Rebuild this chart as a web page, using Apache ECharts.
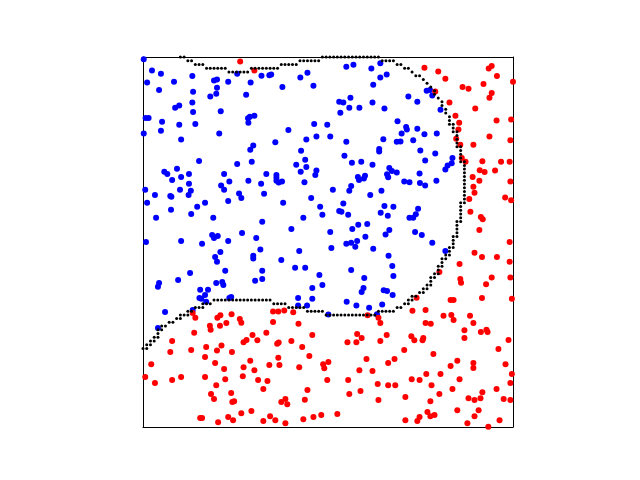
<!DOCTYPE html>
<html>
<head>
<meta charset="utf-8">
<script src="https://cdn.jsdelivr.net/npm/echarts@6/dist/echarts.min.js"></script>
<style>html,body{margin:0;padding:0;background:#fff}#c{width:640px;height:480px}</style>
</head>
<body>
<div id="c"></div>
<script>
// Class 1 (blue) samples, [x, y] on a 0..99 grid scale
const bluePoints = [
[0.2,98.4],[2.4,95.4],[4.8,94.5],[1.1,92.2],[8.3,92.4],[13.2,93.9],[19.0,92.7],[19.8,93.0],[22.8,92.4],[25.2,94.5],
[28.8,92.2],[31.7,94.0],[19.8,90.8],[4.3,90.2],[13.4,89.7],[18.0,88.4],[19.6,89.2],[27.6,88.9],[8.6,85.4],[9.7,86.0],
[13.2,86.8],[13.4,84.3],[20.8,84.5],[0.7,82.7],[1.5,82.7],[5.1,81.7],[9.7,80.9],[14.0,81.1],[28.1,82.6],[28.6,83.0],
[29.8,83.3],[28.2,81.4],[0.2,78.5],[4.8,79.3],[20.4,78.5],[10.2,76.9],[29.5,75.3],[28.7,74.2],[15.0,71.2],[25.2,70.4],
[29.1,71.0],[5.7,68.3],[6.5,67.7],[9.1,69.1],[12.3,67.7],[21.7,67.7],[33.0,67.7],[7.8,66.1],[10.2,66.9],[12.3,65.1],
[23.1,65.7],[28.2,65.9],[33.8,94.1],[34.3,94.3],[37.3,91.0],[42.1,93.5],[44.0,94.8],[45.6,91.3],[54.4,96.4],[56.3,96.9],
[61.1,95.9],[63.5,97.3],[63.5,93.5],[65.2,94.3],[61.6,91.6],[52.5,87.0],[53.6,86.8],[55.5,88.1],[55.2,85.4],[57.9,85.4],
[52.8,84.1],[61.4,86.8],[64.6,85.2],[45.8,81.1],[49.3,80.9],[38.9,79.5],[46.4,77.7],[50.1,77.7],[35.4,76.2],[43.7,76.9],
[54.4,76.3],[64.3,77.0],[42.3,73.9],[63.2,74.4],[63.2,73.7],[53.9,72.6],[43.4,71.5],[41.0,70.2],[43.7,69.6],[55.9,70.7],
[58.4,71.0],[61.4,70.2],[65.9,69.3],[35.7,67.4],[35.7,66.7],[35.7,65.9],[36.3,65.4],[37.2,65.7],[42.2,68.3],[43.2,65.5],
[46.4,68.6],[46.1,67.4],[57.5,66.9],[57.8,66.1],[59.4,67.2],[59.1,66.5],[65.3,67.6],[65.6,66.8],[75.9,90.0],[76.8,90.2],
[77.4,88.7],[71.0,88.4],[73.4,87.0],[79.6,84.9],[68.1,81.8],[70.4,80.3],[70.6,79.6],[73.4,79.8],[69.2,78.5],[75.3,78.3],
[78.6,78.5],[67.9,76.3],[68.9,76.4],[72.3,76.7],[74.2,74.0],[78.2,73.2],[75.5,71.3],[82.8,72.0],[82.6,70.6],[81.5,70.0],
[80.9,68.9],[66.6,68.5],[67.9,68.1],[74.0,67.8],[69.9,65.7],[71.3,65.5],[74.1,65.3],[75.5,64.6],[78.5,65.9],[73.6,58.4],
[71.3,56.0],[72.3,56.0],[73.0,56.9],[72.8,52.2],[74.6,51.4],[77.4,49.3],[80.9,47.1],[67.0,58.9],[65.5,56.5],[65.9,52.7],
[64.9,51.5],[65.7,45.8],[66.7,43.1],[67.0,40.4],[64.4,36.6],[65.3,36.4],[66.8,35.3],[20.9,64.6],[21.7,63.5],[31.6,65.1],
[0.6,63.5],[3.2,62.1],[7.3,61.8],[7.6,61.6],[9.9,63.5],[12.8,63.2],[12.2,62.1],[25.7,62.5],[26.3,61.3],[32.4,62.4],
[1.1,60.0],[7.5,58.1],[16.6,60.0],[14.5,58.9],[12.9,57.0],[22.8,60.5],[3.5,56.0],[18.8,56.0],[31.9,54.9],[0.8,49.5],
[10.2,49.8],[15.8,49.0],[18.5,51.4],[19.0,50.6],[20.0,51.1],[22.8,49.8],[26.5,51.9],[30.3,50.6],[31.4,47.5],[20.7,46.8],
[19.3,45.5],[19.8,44.2],[29.5,45.8],[29.5,45.1],[12.6,41.2],[22.0,41.8],[31.9,41.8],[4.3,38.5],[4.0,37.5],[9.4,39.3],
[19.6,38.5],[21.2,38.8],[21.5,38.0],[30.0,39.1],[31.9,39.6],[15.3,36.7],[17.4,36.7],[16.6,35.3],[15.1,34.5],[15.6,34.3],
[16.9,33.5],[23.1,34.5],[23.6,34.8],[5.9,30.8],[4.0,26.5],[13.3,31.3],[50.8,63.5],[55.7,64.5],[55.2,63.2],[60.8,62.1],
[63.8,63.2],[37.5,60.0],[45.0,61.3],[47.4,58.9],[48.0,56.8],[52.5,57.8],[53.1,57.6],[53.6,59.8],[54.9,56.8],[63.6,57.3],
[64.6,59.1],[42.9,56.0],[39.7,53.0],[50.1,52.2],[56.0,53.0],[57.6,54.1],[60.0,54.3],[59.5,50.9],[57.3,49.8],[55.7,49.3],
[54.4,49.0],[56.8,48.2],[50.4,47.9],[61.6,47.7],[41.8,47.1],[37.0,44.7],[40.7,42.6],[43.4,42.6],[55.7,42.0],[47.2,40.7],
[59.2,39.9],[45.3,37.2],[48.0,38.0],[59.0,37.2],[58.5,36.1],[41.5,34.5],[45.3,34.3],[54.5,33.5],[57.1,32.5],[60.5,31.9],
[64.0,32.8],[41.5,32.5],[43.9,32.5],[49.6,30.1],[62.6,30.2]
];
// Class 2 (red) samples
const redPoints = [
[26.0,97.8],[29.8,95.4],[75.3,96.1],[79.0,95.1],[80.9,93.2],[92.5,95.9],[93.3,96.6],[94.7,93.9],[99.0,92.4],[91.1,91.8],
[85.5,91.0],[87.1,90.5],[78.2,89.8],[93.3,89.4],[92.7,88.1],[82.0,86.8],[88.9,85.2],[83.6,83.3],[84.6,81.4],[84.4,79.6],
[94.6,82.0],[98.5,82.3],[83.8,77.1],[92.7,77.7],[98.3,76.7],[84.9,75.5],[88.4,75.5],[85.3,72.0],[86.3,71.0],[90.8,71.1],
[95.8,71.0],[98.1,71.0],[90.1,68.7],[91.4,68.2],[94.2,68.6],[88.2,66.9],[90.0,65.9],[98.3,65.7],[88.4,64.3],[88.7,62.7],
[87.3,61.0],[96.9,61.4],[98.5,60.7],[87.6,57.6],[90.4,56.2],[90.9,55.6],[90.0,52.7],[98.1,49.5],[88.7,46.6],[90.7,45.5],
[94.7,45.5],[98.1,44.2],[84.7,43.6],[79.3,41.5],[93.3,40.0],[91.8,38.2],[84.9,39.6],[85.1,38.6],[98.3,40.0],[82.3,34.0],
[83.1,34.0],[90.7,34.5],[98.7,34.3],[73.2,34.6],[13.3,30.5],[14.0,29.2],[19.9,29.2],[20.7,29.9],[23.7,30.2],[17.9,27.1],
[18.1,26.0],[20.6,27.1],[22.3,27.8],[25.9,28.9],[26.3,27.9],[13.7,25.2],[7.8,23.0],[21.0,21.8],[19.8,20.5],[12.9,20.6],
[7.3,20.1],[23.8,20.1],[16.9,21.4],[26.9,22.7],[27.7,23.3],[29.3,24.6],[30.6,23.2],[33.0,25.2],[2.2,16.8],[16.6,18.7],
[19.3,17.1],[28.7,17.7],[21.7,15.5],[26.9,16.0],[29.8,15.2],[0.6,13.4],[3.2,11.8],[7.8,12.6],[10.2,13.4],[16.6,13.4],
[22.0,12.8],[26.7,13.6],[30.8,12.6],[33.3,12.3],[19.6,11.2],[32.2,10.2],[23.6,9.1],[18.2,8.8],[19.0,7.5],[23.9,6.7],
[24.4,6.9],[26.3,3.7],[29.0,4.3],[15.3,2.4],[15.8,2.4],[22.8,2.7],[24.1,1.8],[20.1,1.3],[32.2,1.6],[34.8,30.9],
[36.2,30.9],[37.8,31.2],[40.2,30.7],[34.8,28.1],[41.6,27.6],[35.9,22.3],[36.3,22.6],[39.7,23.0],[45.3,24.6],[42.6,21.4],
[36.2,18.5],[44.5,19.0],[33.8,16.6],[36.5,16.6],[41.8,16.0],[48.2,16.8],[49.6,17.4],[48.5,15.7],[44.0,9.9],[49.3,12.6],
[38.1,7.5],[37.0,6.7],[38.6,6.1],[43.3,7.3],[54.7,22.7],[57.1,22.7],[58.5,23.8],[57.3,24.9],[60.1,29.9],[63.0,29.2],
[63.5,27.8],[65.2,24.6],[63.5,23.0],[59.8,18.2],[57.9,15.2],[61.4,15.0],[65.6,17.1],[54.9,12.6],[62.8,11.5],[65.6,11.2],
[55.2,8.8],[58.2,9.6],[63.0,7.2],[52.0,3.5],[47.7,3.2],[45.6,2.7],[42.9,2.1],[34.0,2.9],[35.4,1.8],[38.1,1.0],
[72.1,31.1],[75.6,31.3],[80.4,29.8],[82.5,30.0],[83.1,28.6],[87.5,29.8],[88.4,27.8],[75.6,27.8],[77.0,27.6],[71.8,24.3],
[72.6,23.2],[75.0,23.8],[74.8,23.2],[86.0,25.9],[86.0,23.8],[90.4,25.4],[91.9,26.0],[92.2,25.4],[97.8,23.3],[69.9,20.6],
[77.7,19.5],[95.1,20.9],[67.3,18.2],[84.1,17.7],[82.3,16.3],[88.4,17.1],[88.4,15.8],[97.0,16.8],[75.8,14.2],[79.6,14.2],
[98.7,14.2],[71.9,12.8],[74.0,12.6],[84.7,12.8],[67.5,11.2],[77.2,11.2],[82.8,10.2],[79.3,8.8],[90.8,9.3],[94.6,10.2],
[98.3,11.8],[70.2,8.0],[87.1,7.7],[88.7,7.2],[90.3,7.7],[96.5,7.5],[98.3,7.2],[76.9,6.9],[89.8,4.5],[84.1,4.5],
[76.1,4.0],[76.9,2.9],[78.0,3.2],[74.0,2.7],[73.4,1.6],[70.2,1.8],[88.7,2.9],[95.4,1.8],[86.8,1.0],[92.4,0.1]
];
// Decision boundary grid cells [column, row]
const boundaryPoints = [
[0,21],[1,21],[1,22],[2,22],[2,23],[3,23],[3,24],[4,24],[4,25],[4,26],[5,26],[5,27],[6,27],[7,28],[8,28],[9,29],[10,29],
[10,30],[11,30],[12,30],[12,31],[13,31],[14,32],[15,32],[16,32],[16,33],[17,33],[18,33],
[19,34],[20,34],[21,34],[22,34],[23,34],[24,34],[25,34],[26,34],[27,34],[28,34],[29,34],[30,34],[31,34],[32,34],[33,34],[34,34],
[35,33],[36,33],[37,33],[38,33],
[39,32],[40,32],[41,32],[42,32],[43,32],
[44,31],[45,31],[46,31],[47,31],[48,31],
[49,30],[50,30],[51,30],[52,30],[53,30],[54,30],[55,30],[56,30],[57,30],[58,30],[59,30],[60,30],[61,30],[62,30],
[63,31],[64,31],[65,31],[66,31],[67,31],
[68,32],[69,32],[70,33],[71,33],[71,34],[72,34],[72,35],[73,35],[74,36],[75,36],[75,37],[76,37],[76,38],[77,38],
[77,39],[77,40],[78,40],[78,41],[79,41],[79,42],[79,43],[80,43],[80,44],[80,45],[81,45],[81,46],[82,46],[82,47],
[82,48],[83,48],[83,49],[83,50],[83,51],[84,51],[84,52],[84,53],[84,54],[84,55],[85,55],[85,56],[85,57],[85,58],
[85,59],[85,60],[86,60],[86,61],[86,62],[86,63],[86,64],[86,65],[86,66],[86,67],[86,68],[86,69],[86,70],[85,71],
[86,71],[85,72],[85,73],[85,74],[84,75],[85,75],[84,76],[84,77],[84,78],[83,79],[84,79],[83,80],[82,81],[83,81],
[82,82],[82,83],[81,84],[81,85],[80,86],[80,87],[79,88],[78,89],[78,90],[77,91],[76,92],[75,93],[73,94],[74,94],
[72,95],[70,96],[71,96],[68,97],[69,97],[64,98],[65,98],[66,98],[67,98],
[48,99],[49,99],[50,99],[51,99],[52,99],[53,99],[54,99],[55,99],[56,99],[57,99],[58,99],[59,99],[60,99],[61,99],[62,99],[63,99],
[42,98],[43,98],[44,98],[45,98],[46,98],[47,98],
[37,97],[38,97],[39,97],[40,97],[41,97],
[29,96],[30,96],[31,96],[32,96],[33,96],[34,96],[35,96],[36,96],
[23,95],[24,95],[25,95],[26,95],[27,95],[28,95],
[17,96],[18,96],[19,96],[20,96],[21,96],[22,96],
[14,97],[15,97],[16,97],[12,98],[13,98],[10,99],[11,99]
];

const frameAxis = {
  type: 'value', min: 0, max: 99,
  axisLine: {show: true, onZero: false, lineStyle: {color: '#000000', width: 1}},
  axisTick: {show: false}, axisLabel: {show: false}, splitLine: {show: false}
};

const chart = echarts.init(document.getElementById('c'), null, {renderer: 'canvas'});
chart.setOption({
  animation: false,
  backgroundColor: '#ffffff',
  grid: {left: 143, top: 57, width: 370, height: 370, show: false},
  xAxis: [
    Object.assign({position: 'bottom'}, frameAxis),
    Object.assign({position: 'top'}, frameAxis)
  ],
  yAxis: [
    Object.assign({position: 'left'}, frameAxis),
    Object.assign({position: 'right'}, frameAxis)
  ],
  series: [
    {type: 'scatter', data: bluePoints, symbol: 'circle', symbolSize: 6, clip: true,
     itemStyle: {color: '#0000ff', opacity: 1}, z: 2},
    {type: 'scatter', data: redPoints, symbol: 'circle', symbolSize: 6, clip: true,
     itemStyle: {color: '#ff0000', opacity: 1}, z: 2},
    {type: 'scatter', data: boundaryPoints, symbol: 'circle', symbolSize: 3, clip: true,
     itemStyle: {color: '#000000', opacity: 1}, z: 3}
  ]
});
</script>
</body>
</html>
